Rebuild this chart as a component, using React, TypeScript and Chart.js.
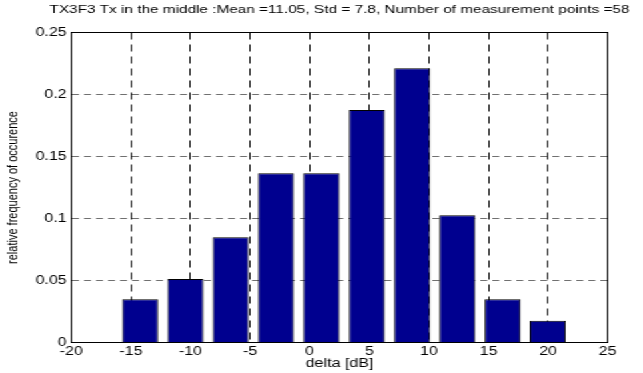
import React, { useEffect, useRef } from 'react';
import { Chart, registerables } from 'chart.js';

Chart.register(...registerables);

const TITLE = 'TX3F3 Tx in the middle :Mean =11.05, Std = 7.8, Number of measurement points =58';
const X_TITLE = 'delta [dB]';
const Y_TITLE = 'relative frequency of occurence';

// histogram bin centres (dB) and relative frequencies
const binCenters = [-14.22, -10.42, -6.62, -2.82, 0.98, 4.78, 8.58, 12.38, 16.18, 19.97];
const frequencies = [0.0348, 0.0512, 0.0848, 0.1365, 0.1365, 0.1875, 0.2211, 0.1026, 0.0348, 0.0176];

const xTicks = [-20, -15, -10, -5, 0, 5, 10, 15, 20, 25];
const yTicks = [0, 0.05, 0.1, 0.15, 0.2, 0.25];
const yTickLabels = ['0', '0.05', '0.1', '0.15', '0.2', '0.25'];

const FONT = "'Liberation Sans', Arial, Helvetica, sans-serif";

// the figure is drawn at its native width and shown horizontally stretched to 643px
const NATIVE_W = 482;
const NATIVE_H = 373;
const STRETCH = 643 / NATIVE_W;

const framePlugin = {
  id: 'matlabFrame',
  afterDraw(chart: any) {
    const { ctx, chartArea } = chart;
    ctx.save();
    ctx.strokeStyle = '#000';
    ctx.lineWidth = 1;
    ctx.setLineDash([]);
    ctx.strokeRect(chartArea.left, chartArea.top, chartArea.right - chartArea.left, chartArea.bottom - chartArea.top);
    ctx.font = `11.5px ${FONT}`;
    ctx.fillStyle = '#000';
    ctx.textAlign = 'center';
    ctx.textBaseline = 'middle';
    ctx.fillText(TITLE, (chartArea.left + chartArea.right) / 2, 10);
    ctx.restore();
  },
};

export default function App() {
  const ref = useRef<HTMLCanvasElement | null>(null);
  useEffect(() => {
    if (!ref.current) return;
    const chart = new Chart(ref.current, {
      type: 'bar',
      data: {
        datasets: [
          {
            data: binCenters.map((x, i) => ({ x, y: frequencies[i] })),
            backgroundColor: '#00008F',
            borderColor: '#000000',
            borderWidth: 1,
            categoryPercentage: 1,
            barPercentage: 0.8,
          } as any,
        ],
      },
      options: {
        animation: false,
        responsive: false,
        devicePixelRatio: 1,
        layout: { padding: { left: 0, right: 26.5, top: 32.5, bottom: 0 } },
        plugins: { legend: { display: false }, tooltip: { enabled: false }, title: { display: false } },
        scales: {
          x: {
            type: 'linear',
            min: xTicks[0],
            max: xTicks[xTicks.length - 1],
            offset: false,
            afterBuildTicks: (s: any) => { s.ticks = xTicks.map((v) => ({ value: v })); },
            ticks: { color: '#000', font: { family: FONT, size: 12 }, padding: 2, maxRotation: 0, autoSkip: false },
            grid: { color: '#1a1a1a', offset: false, drawTicks: false, lineWidth: 1 },
            border: { display: false, dash: [7, 5] },
            title: { display: true, text: X_TITLE, color: '#000', font: { family: FONT, size: 12 }, padding: { top: 0, bottom: 2 } },
            afterFit: (s: any) => { s.height = 30.5; },
          } as any,
          y: {
            type: 'linear',
            min: yTicks[0],
            max: yTicks[yTicks.length - 1],
            afterBuildTicks: (s: any) => { s.ticks = yTicks.map((v) => ({ value: v })); },
            ticks: {
              color: '#000',
              font: { family: FONT, size: 12 },
              padding: 3.5,
              callback: (v: any) => {
                const i = yTicks.findIndex((t) => Math.abs(t - Number(v)) < 1e-9);
                return i >= 0 ? yTickLabels[i] : String(v);
              },
            },
            grid: { color: '#707070', drawTicks: false, lineWidth: 1 },
            border: { display: false, dash: [5.25, 3.75] },
            title: { display: true, text: Y_TITLE, color: '#000', font: { family: FONT, size: 11 }, padding: { top: 3.3, bottom: 0 } },
            afterFit: (s: any) => { s.width = 53.5; },
          } as any,
        },
      },
      plugins: [framePlugin],
    });
    return () => chart.destroy();
  }, []);
  return (
    <div
      style={{
        position: 'fixed',
        left: 0,
        top: 0,
        width: NATIVE_W,
        height: NATIVE_H,
        background: '#fff',
        transform: `scaleX(${STRETCH})`,
        transformOrigin: '0 0',
      }}
    >
      <canvas ref={ref} width={NATIVE_W} height={NATIVE_H} style={{ display: 'block', width: NATIVE_W, height: NATIVE_H }} />
    </div>
  );
}
